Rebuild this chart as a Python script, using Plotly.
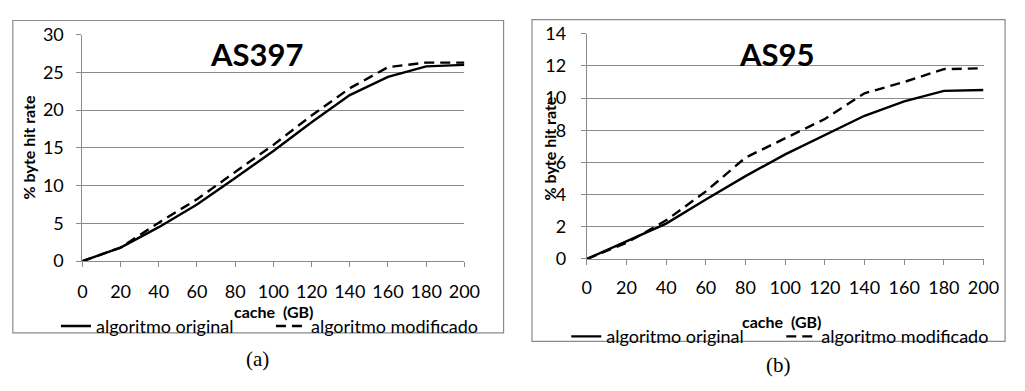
import plotly.graph_objects as go

W, H = 1025, 391

cache_gb = [0, 20, 40, 60, 80, 100, 120, 140, 160, 180, 200]
as397_original = [0, 1.8, 4.5, 7.5, 11.0, 14.6, 18.4, 22.0, 24.4, 25.8, 26.0]
as397_modificado = [0, 1.8, 5.1, 8.2, 11.8, 15.4, 19.3, 22.9, 25.7, 26.3, 26.3]
as95_original = [0, 1.1, 2.2, 3.7, 5.15, 6.5, 7.7, 8.9, 9.8, 10.45, 10.5]
as95_modificado = [0, 1.0, 2.4, 4.2, 6.3, 7.5, 8.7, 10.3, 11.0, 11.8, 11.85]

x_ticks = list(range(0, 201, 20))
y_ticks_a = list(range(0, 31, 5))
y_ticks_b = list(range(0, 15, 2))

name_orig = "algoritmo original"
name_mod = "algoritmo modificado"


def px(x):
    return x / W


def py(y):
    return 1 - y / H


fig = go.Figure()
line_w = 2.4
dash = "10px,6px"

fig.add_trace(go.Scatter(x=cache_gb, y=as397_original, mode="lines", name=name_orig,
                         line=dict(color="black", width=line_w), xaxis="x", yaxis="y",
                         legend="legend"))
fig.add_trace(go.Scatter(x=cache_gb, y=as397_modificado, mode="lines", name=name_mod,
                         line=dict(color="black", width=line_w, dash=dash), xaxis="x", yaxis="y",
                         legend="legend"))
fig.add_trace(go.Scatter(x=cache_gb, y=as95_original, mode="lines", name=name_orig,
                         line=dict(color="black", width=line_w), xaxis="x2", yaxis="y2",
                         legend="legend2"))
fig.add_trace(go.Scatter(x=cache_gb, y=as95_modificado, mode="lines", name=name_mod,
                         line=dict(color="black", width=line_w, dash=dash), xaxis="x2", yaxis="y2",
                         legend="legend2"))

tick_font = dict(family="Lato", size=18, color="black")
grid_col = "#8a8a8a"

common_x = dict(range=[0, 200], tickvals=x_ticks, showgrid=False, zeroline=False,
                showline=True, linecolor=grid_col, linewidth=1, ticks="outside",
                ticklen=5, tickcolor=grid_col, tickfont=tick_font, fixedrange=True)
common_y = dict(showgrid=True, gridcolor=grid_col, gridwidth=1, zeroline=False,
                showline=True, linecolor=grid_col, linewidth=1, ticks="outside",
                ticklen=5, tickcolor=grid_col, tickfont=tick_font, fixedrange=True)

legend_font = dict(family="Lato", size=18, color="black")

fig.update_layout(
    width=W, height=H,
    margin=dict(l=0, r=0, t=0, b=0),
    paper_bgcolor="white", plot_bgcolor="white",
    font=dict(family="Lato", color="black"),
    xaxis=dict(common_x, domain=[px(79), px(469)], anchor="y", ticklabelstandoff=9),
    yaxis=dict(common_y, domain=[py(264), py(24)], anchor="x", range=[0, 30],
               tickvals=y_ticks_a, ticklabelstandoff=9),
    xaxis2=dict(common_x, domain=[px(594), px(999)], anchor="y2", ticklabelstandoff=7),
    yaxis2=dict(common_y, domain=[py(261.7), py(23)], anchor="x2", range=[0, 14],
                tickvals=y_ticks_b, ticklabelstandoff=11),
    legend=dict(orientation="h", x=px(52), xanchor="left", y=py(333), yanchor="middle",
                font=legend_font, bgcolor="rgba(0,0,0,0)",
                entrywidth=170, entrywidthmode="pixels", itemclick=False, itemdoubleclick=False),
    legend2=dict(orientation="h", x=px(573), xanchor="left", y=py(344), yanchor="middle",
                 font=legend_font, bgcolor="rgba(0,0,0,0)",
                 entrywidth=170, entrywidthmode="pixels", itemclick=False, itemdoubleclick=False),
    showlegend=True,
)

shapes = [
    dict(type="rect", xref="paper", yref="paper", x0=px(8), x1=px(509), y0=py(340), y1=py(9),
         line=dict(color="#8a8a8a", width=1.2), layer="below"),
    dict(type="rect", xref="paper", yref="paper", x0=px(538), x1=px(1021), y0=py(349), y1=py(8),
         line=dict(color="#8a8a8a", width=1.2), layer="below"),
]
fig.update_layout(shapes=shapes)


def add_text(text, x, y, size, family="Lato", angle=0):
    return dict(text=text, x=px(x), y=py(y), xref="paper", yref="paper",
                xanchor="center", yanchor="middle", showarrow=False, textangle=angle,
                font=dict(family=family, size=size, color="black"))


ann = [
    add_text("<b>AS397</b>", 257, 45, 31),
    add_text("<b>AS95</b>", 788, 45, 31),
    add_text("<b>cache  (GB)</b>", 275, 317, 16),
    add_text("<b>cache  (GB)</b>", 793, 328, 16),
    add_text("<b>% byte hit rate</b>", 24, 144, 16, angle=-90),
    add_text("<b>% byte hit rate</b>", 556, 145, 16, angle=-90),
    add_text("(a)", 258, 368, 21, family="Liberation Serif"),
    add_text("(b)", 790, 374, 21, family="Liberation Serif"),
]
fig.update_layout(annotations=ann)

fig.write_html("out.html", config={"displayModeBar": False})
